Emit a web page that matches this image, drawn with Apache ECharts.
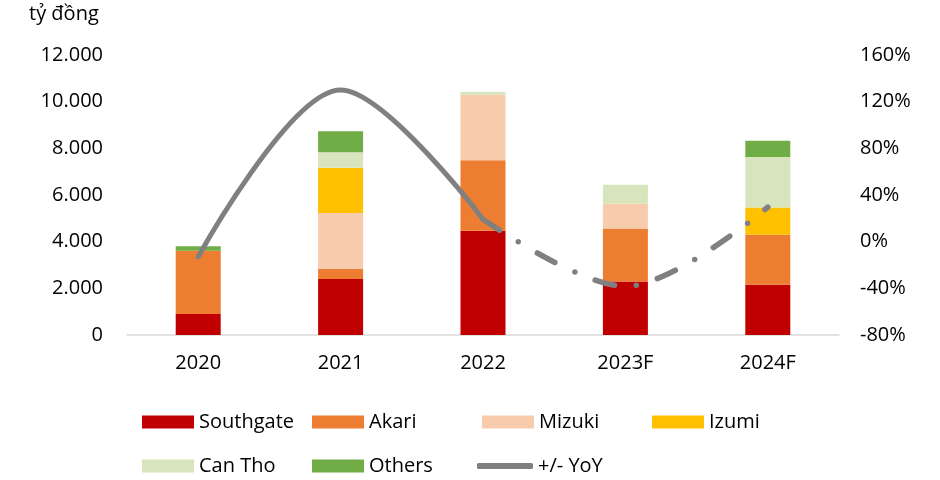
<!DOCTYPE html>
<html>
<head>
<meta charset="utf-8">
<script src="https://cdn.jsdelivr.net/npm/echarts@6/dist/echarts.min.js"></script>
<style>html,body{margin:0;padding:0;background:#fff}#c{width:940px;height:480px}</style>
</head>
<body>
<div id="c"></div>
<script>
var categories = ['2020', '2021', '2022', '2023F', '2024F'];
var southgate = [900, 2400, 4470, 2290, 2150];
var akari = [2710, 430, 3015, 2270, 2150];
var mizuki = [0, 2400, 2815, 1060, 0];
var izumi = [0, 1940, 0, 0, 1160];
var canTho = [0, 660, 110, 815, 2170];
var others = [190, 900, 0, 0, 700];
var yoy = [-13, 130, 19.3, -38.3, 29.6];
var yoyActual = [yoy[0], yoy[1], yoy[2], null, null];
var yoyForecast = [null, null, yoy[2], yoy[3], yoy[4]];
var leftTicks = {min: 0, max: 12000, interval: 2000};
var rightTicks = {min: -80, max: 160, interval: 40};

var FONT = 'Open Sans';
var chart = echarts.init(document.getElementById('c'), null, {renderer: 'canvas'});

function fmtThousands(v) {
  return String(v).replace(/\B(?=(\d{3})+(?!\d))/g, '.');
}

var barSeries = [
  ['Southgate', southgate, '#C00000'],
  ['Akari', akari, '#ED7D31'],
  ['Mizuki', mizuki, '#F8CBAD'],
  ['Izumi', izumi, '#FFC000'],
  ['Can Tho', canTho, '#D8E4BC'],
  ['Others', others, '#70AD47']
].map(function (s) {
  return {
    name: s[0], type: 'bar', stack: 'total', data: s[1], barWidth: 45,
    itemStyle: {color: s[2]}, yAxisIndex: 0
  };
});

var legendPos = [
  ['Southgate', 142, 412], ['Akari', 312, 412], ['Mizuki', 482, 412], ['Izumi', 652, 412],
  ['Can Tho', 142, 456], ['Others', 312, 456]
];
var legends = legendPos.map(function (p) {
  return {
    data: [p[0]], left: p[1], top: p[2], padding: 0, itemWidth: 52, itemHeight: 13,
    icon: 'rect', itemGap: 0,
    textStyle: {fontFamily: FONT, fontSize: 20, color: '#000'}
  };
});
legends.push({
  data: [{name: '+/- YoY', icon: 'roundRect', itemStyle: {color: '#808080'}}],
  left: 477, top: 456, padding: 0, itemWidth: 56, itemHeight: 6,
  textStyle: {fontFamily: FONT, fontSize: 20, color: '#000'}
});

var option = {
  animation: false,
  backgroundColor: '#fff',
  title: {
    text: 'tỷ đồng', left: 29, top: 4, padding: 0,
    textStyle: {fontFamily: FONT, fontSize: 20, fontWeight: 'normal', color: '#000'}
  },
  legend: legends,
  grid: {left: 127, right: 101, top: 55, bottom: 145},
  xAxis: {
    type: 'category', data: categories,
    axisLine: {lineStyle: {color: '#D9D9D9', width: 1.5}},
    axisTick: {show: false},
    axisLabel: {fontFamily: FONT, fontSize: 20, color: '#000', margin: 18}
  },
  yAxis: [
    {
      type: 'value', min: leftTicks.min, max: leftTicks.max, interval: leftTicks.interval,
      splitLine: {show: false}, axisLine: {show: false}, axisTick: {show: false},
      axisLabel: {fontFamily: FONT, fontSize: 20, color: '#000', margin: 24, formatter: fmtThousands}
    },
    {
      type: 'value', min: rightTicks.min, max: rightTicks.max, interval: rightTicks.interval,
      splitLine: {show: false}, axisLine: {show: false}, axisTick: {show: false},
      axisLabel: {fontFamily: FONT, fontSize: 20, color: '#000', margin: 21, formatter: '{value}%'}
    }
  ],
  series: barSeries.concat([
    {
      name: '+/- YoY', type: 'line', yAxisIndex: 1, data: yoyActual, smooth: 0.33,
      showSymbol: false, symbol: 'none', connectNulls: false, z: 5,
      lineStyle: {color: '#808080', width: 5, cap: 'round'}, itemStyle: {color: '#808080'}
    },
    {
      name: '+/- YoY', type: 'line', yAxisIndex: 1, data: yoyForecast, smooth: 0.33,
      showSymbol: false, symbol: 'none', connectNulls: false, z: 5,
      lineStyle: {color: '#808080', width: 5.5, cap: 'round', type: [20, 22, 0, 22]},
      itemStyle: {color: '#808080'}
    }
  ])
};
chart.setOption(option);
</script>
</body>
</html>
